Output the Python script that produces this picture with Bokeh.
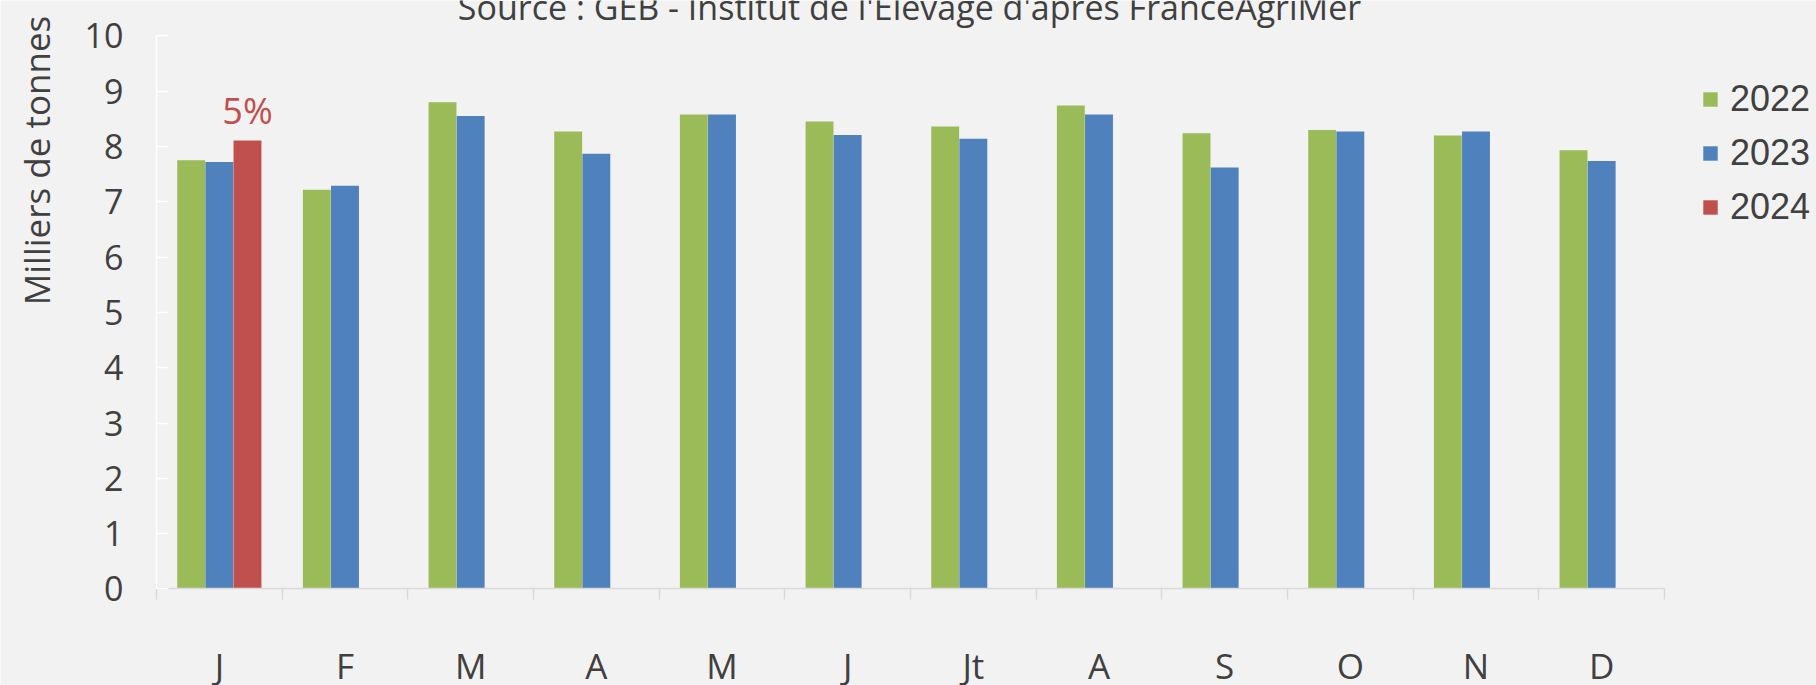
import math
from bokeh.plotting import figure
from bokeh.models import (ColumnDataSource, Range1d, FixedTicker, Legend,
                          LegendItem, Label)
from bokeh.transform import dodge
from bokeh.core.properties import value
from bokeh.embed import file_html
from bokeh.resources import INLINE

# ---------------- data ----------------
months = ["J", "F", "M", "A", "M", "J", "Jt", "A", "S", "O", "N", "D"]
v2022 = [7.75, 7.22, 8.80, 8.27, 8.58, 8.45, 8.36, 8.74, 8.24, 8.30, 8.20, 7.93]
v2023 = [7.72, 7.29, 8.55, 7.87, 8.58, 8.21, 8.14, 8.58, 7.62, 8.27, 8.27, 7.74]
v2024 = [8.11]
labels2024 = ["5%"]
years = ["2022", "2023", "2024"]
colors = ["#9bbb59", "#4f81bd", "#c0504d"]
y_ticks = list(range(0, 11))
title_text = "Source : GEB - Institut de l'Elevage d'apres FranceAgriMer"
y_title = "Milliers de tonnes"

# ---------------- layout / styling ----------------
W, H = 1816, 685
PLOT_L, PLOT_R = 156.0, 1664.0       # pixel extent of the category area
PLOT_T, PLOT_B = 35.4, 588.4         # pixel extent of 10 .. 0
BG = "#f2f2f2"
TXT = "#404040"
FONT = "Open Sans"
BAR_W = 0.222
OFF = 0.224

ncat = len(months)
ymax = 10
xpx = (PLOT_R - PLOT_L) / ncat
ypx = (PLOT_B - PLOT_T) / ymax
x_range = Range1d(-PLOT_L / xpx, ncat + (W - PLOT_R) / xpx)
y_range = Range1d(-(H - PLOT_B) / ypx, ymax + PLOT_T / ypx)

centers = [i + 0.5 for i in range(ncat)]
src22 = ColumnDataSource(dict(x=centers, v=v2022))
src23 = ColumnDataSource(dict(x=centers, v=v2023))
src24 = ColumnDataSource(dict(x=centers[:len(v2024)], v=v2024, lab=labels2024))

p = figure(width=W, height=H, x_range=x_range, y_range=y_range,
           output_backend="svg", toolbar_location=None,
           min_border=0, min_border_left=0, min_border_right=0,
           min_border_top=0, min_border_bottom=0)
p.background_fill_color = BG
p.border_fill_color = BG
p.outline_line_color = None
p.xgrid.visible = False
p.ygrid.visible = False

r22 = p.vbar(x=dodge("x", -OFF, range=p.x_range), top="v", width=BAR_W,
             source=src22, fill_color=colors[0], line_color=None)
r23 = p.vbar(x=dodge("x", 0, range=p.x_range), top="v", width=BAR_W,
             source=src23, fill_color=colors[1], line_color=None)
r24 = p.vbar(x=dodge("x", OFF, range=p.x_range), top="v", width=BAR_W,
             source=src24, fill_color=colors[2], line_color=None)

p.text(x=dodge("x", OFF, range=p.x_range), y="v", text="lab", source=src24,
       y_offset=-30, text_align="center", text_baseline="alphabetic",
       text_font=value(FONT), text_font_size="36px", text_color=colors[2])

# ---- y axis ----
yax = p.yaxis[0]
yax.fixed_location = 0
yax.bounds = (0, ymax)
yax.ticker = FixedTicker(ticks=y_ticks)
yax.axis_line_color = "white"
yax.axis_line_width = 1.5
yax.major_tick_line_color = "white"
yax.major_tick_line_width = 1.5
yax.major_tick_in = 12
yax.major_tick_out = 0
yax.minor_tick_line_color = None
yax.major_label_text_font = FONT
yax.major_label_text_font_size = "34px"
yax.major_label_text_color = TXT
yax.major_label_standoff = 33

# ---- x axis ----
xax = p.xaxis[0]
xax.fixed_location = 0
xax.bounds = (0, ncat)
xax.ticker = FixedTicker(ticks=centers, minor_ticks=list(range(ncat + 1)))
xax.major_label_overrides = {c: m for c, m in zip(centers, months)}
xax.axis_line_color = "#d9d9d9"
xax.axis_line_width = 1.5
xax.major_tick_line_color = None
xax.major_tick_in = 0
xax.major_tick_out = 0
xax.minor_tick_line_color = "#d9d9d9"
xax.minor_tick_line_width = 1.5
xax.minor_tick_in = 0
xax.minor_tick_out = 11
xax.major_label_text_font = FONT
xax.major_label_text_font_size = "35px"
xax.major_label_text_color = TXT
xax.major_label_standoff = 42

# ---- legend ----
legend = Legend(items=[LegendItem(label=years[0], renderers=[r22]),
                       LegendItem(label=years[1], renderers=[r23]),
                       LegendItem(label=years[2], renderers=[r24])],
                location=(1701, H - 233.5), orientation="vertical",
                label_text_font="Liberation Sans", label_text_font_size="36px",
                label_text_color=TXT, glyph_width=18, glyph_height=18,
                label_standoff=11, spacing=0, padding=0, margin=0,
                label_height=54, border_line_color=None,
                background_fill_alpha=0)
p.add_layout(legend)

# ---- title & y label ----
p.add_layout(Label(x=909, y=H - 6, x_units="screen", y_units="screen",
                   text=title_text, text_align="center",
                   text_baseline="alphabetic", text_font=FONT,
                   text_font_size="34px", text_color=TXT))
p.add_layout(Label(x=36, y=H - 160, x_units="screen", y_units="screen",
                   text=y_title, angle=math.pi / 2, text_align="center",
                   text_baseline="alphabetic", text_font=FONT,
                   text_font_size="35px", text_color=TXT))

open("out.html", "w").write(file_html(p, INLINE))
